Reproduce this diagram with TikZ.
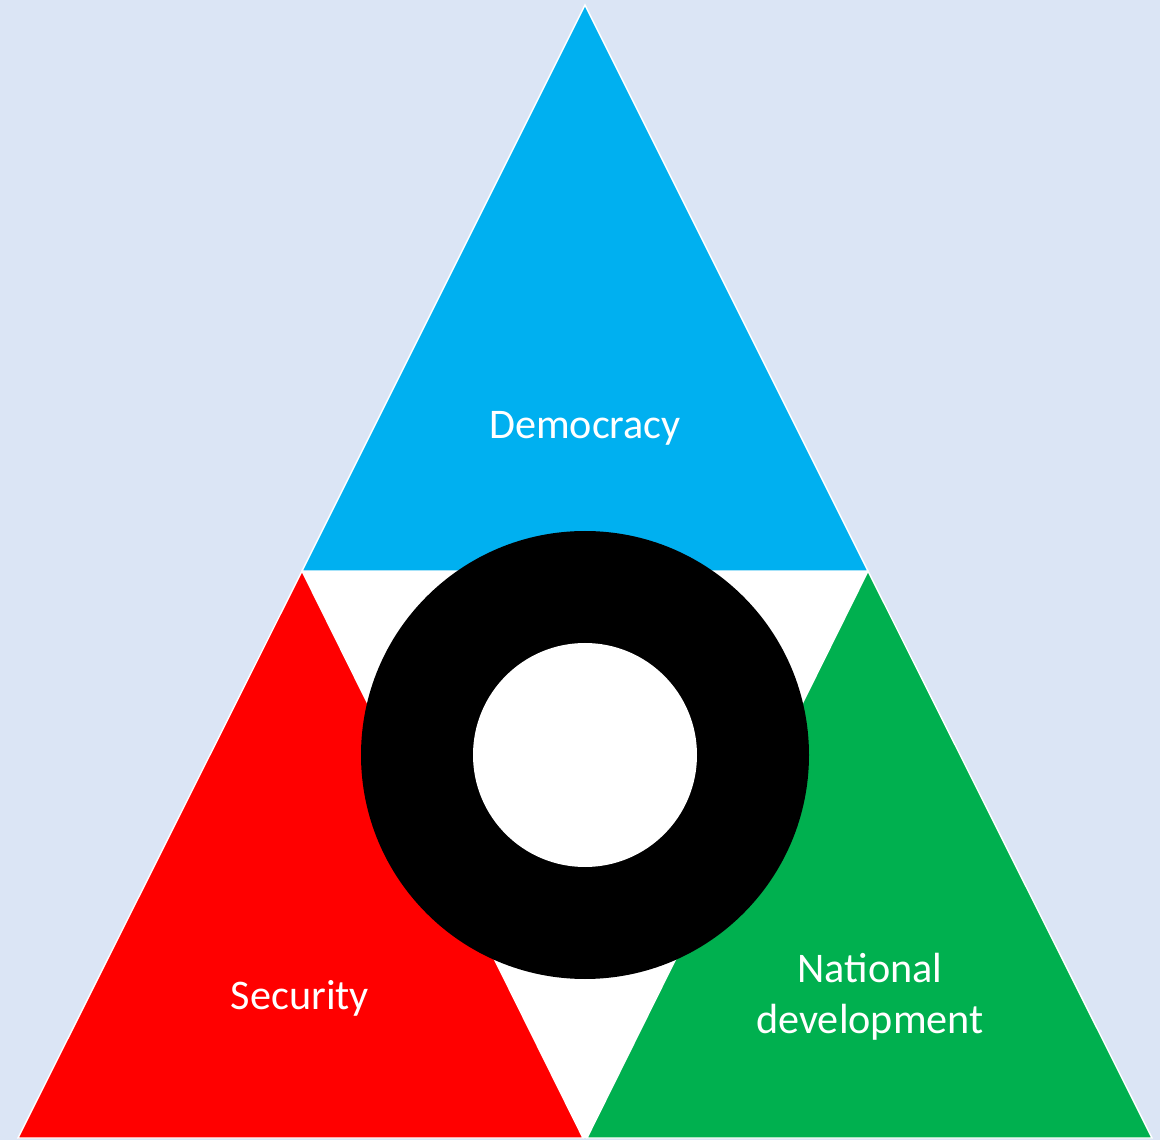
\documentclass[tikz,border=0pt]{standalone}
\usepackage{fontspec}
\setmainfont{Carlito}
\usepackage{tikz}
\usetikzlibrary{positioning}
\definecolor{mbg}{rgb}{0.86, 0.9, 0.96}
\definecolor{mblue}{rgb}{0, 0.69, 0.94}
\definecolor{mred}{rgb}{1, 0, 0}
\definecolor{mgreen}{rgb}{0, 0.69, 0.31}
\tikzset{tri/.style = {draw=white, line width=0.4pt, line join=miter}}
\tikzset{lbl/.style = {text=white, font=\fontsize{12}{14.5}\selectfont, align=center}}

\begin{document}
\begin{tikzpicture}[x=0.01cm, y=-0.01cm]
      \fill [mbg] (0, 0) rectangle (1160, 1140);
      \useasboundingbox (0, 0) rectangle (1160, 1140);

      \coordinate (top) at (585, 5);
      \coordinate (left) at (302, 571);
      \coordinate (right) at (868, 571);
      \coordinate (bl) at (18, 1138);
      \coordinate (bml) at (583, 1138);
      \coordinate (bmr) at (587, 1138);
      \coordinate (br) at (1152, 1138);

      \fill [white] (left) -- (right) -- (bmr) -- (bml) -- cycle;
      \filldraw [tri, fill=mblue] (top) -- (right) -- (left) -- cycle;
      \filldraw [tri, fill=mred] (left) -- (bml) -- (bl) -- cycle;
      \filldraw [tri, fill=mgreen] (right) -- (br) -- (bmr) -- cycle;

      \fill [black] (585, 755) circle (224);
      \fill [white] (585, 755) circle (112);

      \node [lbl] (dem) at (585, 428) {Democracy};
      \node [lbl] (sec) at (300, 998) {Security};
      \node [lbl] (nat) at (870, 997) {National\\development};
\end{tikzpicture}
\end{document}
